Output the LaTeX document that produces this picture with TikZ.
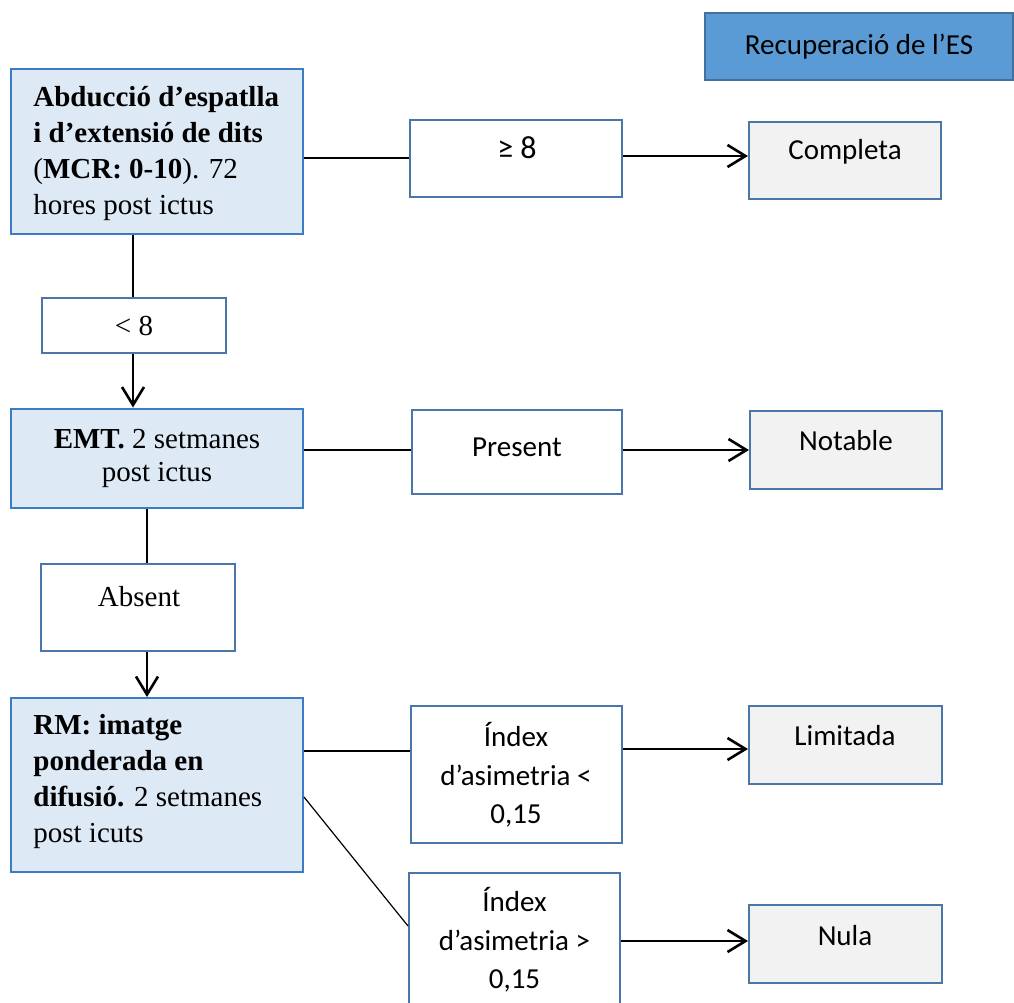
\documentclass[tikz,border=0pt]{standalone}
\usepackage{fontspec}
\setmainfont{Liberation Serif}
\newfontfamily\calib{Carlito}
\usetikzlibrary{arrows.meta}
\definecolor{boxborder}{HTML}{4A76A8}
\definecolor{leftborder}{HTML}{3B7DC4}
\definecolor{leftfill}{HTML}{DEE9F6}
\definecolor{resfill}{HTML}{F2F2F2}
\definecolor{titlefill}{HTML}{5B9BD5}
\definecolor{titleborder}{HTML}{41719C}
\begin{document}
\begin{tikzpicture}[x=0.5pt,y=-0.5pt,
  leftbox/.style={draw=leftborder, fill=leftfill, line width=1pt, inner sep=0},
  condbox/.style={draw=boxborder, fill=white, line width=1pt, inner sep=0},
  resbox/.style={draw=boxborder, fill=resfill, line width=1pt, inner sep=0},
  titlebox/.style={draw=titleborder, fill=titlefill, line width=1pt, inner sep=0},
  serift/.style={font=\fontsize{14.5}{18}\selectfont, align=left, inner sep=0},
  calibt/.style={font=\calib\fontsize{14.5}{19.2}\selectfont, align=center, inner sep=0},
  link/.style={line width=0.6pt},
  arr/.style={line width=1.4pt, -{Straight Barb[length=9pt,width=11pt,line width=1.3pt]}}]
\useasboundingbox (0,0) rectangle (1014,1003);
% boxes
\node[titlebox, minimum width=154pt, minimum height=33.5pt, calibt] (title) at (859,46.5) {Recuperació de l’ES};
\node[leftbox, minimum width=146pt, minimum height=82.5pt] (A) at (157,151.5) {};
\node[condbox, minimum width=106pt, minimum height=38.5pt] (ge8) at (516,158.5) {};
\node[resbox, minimum width=96pt, minimum height=38.5pt] (comp) at (845,160.5) {};
\node[condbox, minimum width=92pt, minimum height=27.5pt, serift] (lt8) at (134,325.5) {< 8};
\node[leftbox, minimum width=146pt, minimum height=49.5pt, serift, font=\fontsize{14.5}{16.5}\selectfont, align=center] (EMT) at (157,458) {\textbf{EMT.} 2 setmanes\\post ictus};
\node[condbox, minimum width=105pt, minimum height=42pt] (pres) at (517,452) {};
\node[resbox, minimum width=96pt, minimum height=39pt] (nota) at (846,450) {};
\node[condbox, minimum width=97pt, minimum height=43.5pt] (abs) at (138,607.5) {};
\node[leftbox, minimum width=146pt, minimum height=87pt] (RM) at (157,785) {};
\node[condbox, minimum width=105.5pt, minimum height=68.5pt] (ilt) at (516.5,774.5) {};
\node[resbox, minimum width=96.5pt, minimum height=39pt] (lim) at (845.5,745) {};
\node[condbox, minimum width=105.5pt, minimum height=68.5pt] (igt) at (514.5,941.5) {};
\node[resbox, minimum width=96.5pt, minimum height=39pt] (nula) at (845.5,944) {};
% texts
\node[serift, anchor=west] (Atext) at (33,154) {\textbf{Abducció d’espatlla}\\\textbf{i d’extensió de dits}\\(\textbf{MCR: 0-10}). 72\\hores post ictus};
\node[serift, anchor=west] (RMtext) at (33,782) {\textbf{RM: imatge}\\\textbf{ponderada en}\\\textbf{difusió.} 2 setmanes\\post icuts};
\node[serift] (abstext) at (139,597) {Absent};
\node[calibt, font=\calib\fontsize{16}{19.2}\selectfont] (ge8text) at (517,148) {≥ 8};
\node[calibt] (comptext) at (845,152) {Completa};
\node[calibt] (prestext) at (517,447) {Present};
\node[calibt] (notatext) at (846,441) {Notable};
\node[calibt] (limtext) at (845,736) {Limitada};
\node[calibt] (nulatext) at (845,936) {Nula};
\node[calibt] (ilttext) at (516,775) {Índex\\d’asimetria <\\0,15};
\node[calibt] (igttext) at (514.5,940) {Índex\\d’asimetria >\\0,15};
% connectors
\draw[link] (A.east |- 0,158) -- (ge8.west |- 0,158);
\draw[arr] (ge8.east |- 0,156) -- (comp.west |- 0,156);
\draw[link] (A.south -| 133,0) -- (lt8.north -| 133,0);
\draw[arr] (lt8.south -| 133,0) -- (EMT.north -| 133,0);
\draw[link] (EMT.east |- 0,450) -- (pres.west |- 0,450);
\draw[arr] (pres.east |- 0,450) -- (nota.west |- 0,450);
\draw[link] (EMT.south -| 147,0) -- (abs.north -| 147,0);
\draw[arr] (abs.south -| 147,0) -- (RM.north -| 147,0);
\draw[link] (RM.east |- 0,751) -- (ilt.west |- 0,751);
\draw[arr] (ilt.east |- 0,749) -- (lim.west |- 0,749);
\draw[link] (RM.east |- 0,797) -- (igt.west |- 0,926);
\draw[arr] (igt.east |- 0,941) -- (nula.west |- 0,941);
\end{tikzpicture}
\end{document}
